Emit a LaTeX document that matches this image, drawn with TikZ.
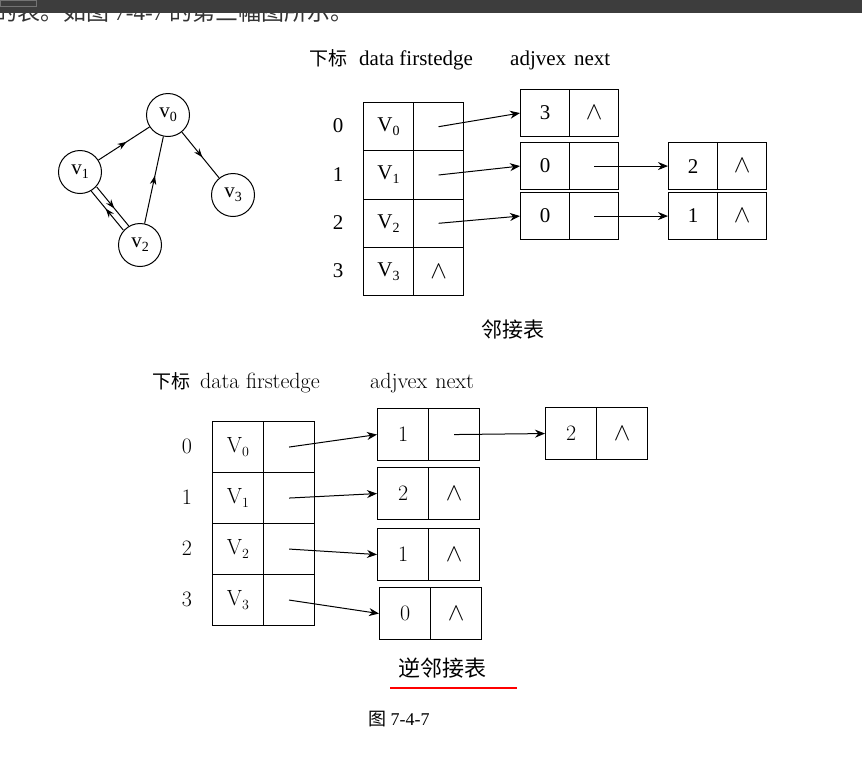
\documentclass[tikz,border=0pt]{standalone}
\usepackage{fontspec}
\newfontfamily\tnr{Liberation Serif}
\newfontfamily\cjk{Noto Sans CJK SC}
\usetikzlibrary{arrows.meta,decorations.markings}
\newcommand{\sbs}[2]{#1\raisebox{-0.4ex}{\fontsize{14}{14}\selectfont #2}}
\newcommand{\nullp}{{\fontsize{30}{30}\selectfont$\wedge$}}
\tikzset{
  vtx/.style={circle,draw,line width=1pt,minimum size=43pt,inner sep=0pt,font=\tnr\fontsize{21}{21}\selectfont},
  midarrow/.style={line width=1pt,decoration={markings,mark=at position 0.55 with {\arrow{Stealth[length=9pt,width=6.5pt]}}},postaction={decorate}},
  tcell/.style={draw,line width=1.1pt,minimum width=50pt,minimum height=48.3pt,inner sep=0pt,anchor=north west,font=\tnr\fontsize{21}{21}\selectfont},
  tedge/.style={draw,line width=1.1pt,minimum width=49pt,minimum height=47pt,inner sep=0pt,anchor=north west,font=\tnr\fontsize{21}{21}\selectfont},
  bcell/.style={draw,line width=1.1pt,minimum width=51pt,minimum height=51pt,inner sep=0pt,anchor=north west,font=\fontsize{22}{22}\selectfont},
  bedge/.style={draw,line width=1.1pt,minimum width=51pt,minimum height=52pt,inner sep=0pt,anchor=north west,font=\fontsize{22}{22}\selectfont},
  ptr/.style={line width=1pt,-{Stealth[length=10pt,width=8pt]}},
  lbl/.style={inner sep=0pt,font=\tnr\fontsize{21}{21}\selectfont},
  blbl/.style={inner sep=0pt,font=\fontsize{22}{22}\selectfont},
}
\begin{document}
\begin{tikzpicture}[x=1pt,y=-1pt]
\fill[white] (0,0) rectangle (862,756);
\useasboundingbox (0,0) rectangle (862,756);
% clipped header text and top bar
\begin{scope}
\clip (0,0) rectangle (862,22);
\node[anchor=base west,inner sep=0pt,font=\cjk\fontsize{23}{23}\selectfont,text=black!80] (toptext) at (-6,20) {的表。如图 {\tnr 7-4-7} 的第三幅图所示。};
\end{scope}
\fill[black!76] (0,0) rectangle (862,12.5);
\draw[black!55,line width=0.6pt] (0,0) rectangle (36,6);
% graph
\node[vtx] (v0) at (168,115) {\sbs{v}{0}};
\node[vtx] (v1) at (80,172) {\sbs{v}{1}};
\node[vtx] (v2) at (140,245) {\sbs{v}{2}};
\node[vtx] (v3) at (233,195) {\sbs{v}{3}};
\draw[midarrow] (v1) -- (v0);
\draw[midarrow] (v0) -- (v3);
\draw[midarrow] (v2) -- (v0);
\draw[midarrow,transform canvas={shift={(2.7pt,2.1pt)}}] (v1) -- (v2);
\draw[midarrow,transform canvas={shift={(-2.7pt,-2.1pt)}}] (v2) -- (v1);
% top adjacency list
\node[lbl,anchor=west] (h1) at (309,60) {{\cjk\fontsize{19}{19}\selectfont 下标}\hspace{12pt}data firstedge};
\node[lbl,anchor=west] (h2) at (510,60) {adjvex\hspace{8pt}next};
\foreach \i/\y in {0/102,1/150.3,2/198.6,3/246.9}{
  \node[lbl] (ti\i) at (338,\y+24) {\i};
  \node[tcell] (td\i) at (363,\y) {\sbs{V}{\i}};
  \node[tcell] (tf\i) at (413,\y) {};
}
\node[inner sep=0pt] (tnull) at (tf3.center) {\nullp};
\node[tedge] (a0) at (520,89) {3};
\node[tedge] (a0n) at (569,89) {\nullp};
\node[tedge] (b0) at (520,142) {0};
\node[tedge] (b0n) at (569,142) {};
\node[tedge] (c0) at (520,192) {0};
\node[tedge] (c0n) at (569,192) {};
\node[tedge] (d0) at (668,142) {2};
\node[tedge] (d0n) at (717,142) {\nullp};
\node[tedge] (e0) at (668,192) {1};
\node[tedge] (e0n) at (717,192) {\nullp};
\draw[ptr] (tf0.center) -- (a0.west);
\draw[ptr] (tf1.center) -- (b0.west);
\draw[ptr] (tf2.center) -- (c0.west);
\draw[ptr] (b0n.center) -- (d0.west);
\draw[ptr] (c0n.center) -- (e0.west);
\node[inner sep=0pt,font=\cjk\fontsize{21}{21}\selectfont] (cap1) at (513,330) {邻接表};
% bottom inverse adjacency list
\node[blbl,anchor=west] (g1) at (152,383) {{\cjk\fontsize{19}{19}\selectfont 下标}\hspace{10pt}data firstedge};
\node[blbl,anchor=west] (g2) at (370,383) {adjvex\hspace{8pt}next};
\foreach \i/\y in {0/421,1/472,2/523,3/574}{
  \node[blbl] (bi\i) at (187,\y+25) {\i};
  \node[bcell] (bd\i) at (212,\y) {\sbs{V}{\i}};
  \node[bcell] (bf\i) at (263,\y) {};
}
\node[bedge] (p0) at (377,408) {1};
\node[bedge] (p0n) at (428,408) {};
\node[bedge] (p1) at (377,467) {2};
\node[bedge] (p1n) at (428,467) {\nullp};
\node[bedge] (p2) at (377,528) {1};
\node[bedge] (p2n) at (428,528) {\nullp};
\node[bedge] (p3) at (379,587) {0};
\node[bedge] (p3n) at (430,587) {\nullp};
\node[bedge] (q0) at (545,407) {2};
\node[bedge] (q0n) at (596,407) {\nullp};
\draw[ptr] (bf0.center) -- (p0.west);
\draw[ptr] (bf1.center) -- (p1.west);
\draw[ptr] (bf2.center) -- (p2.west);
\draw[ptr] (bf3.center) -- (p3.west);
\draw[ptr] (p0n.center) -- (q0.west);
\node[inner sep=0pt,font=\cjk\fontsize{22}{22}\selectfont] (cap2) at (442,668) {逆邻接表};
\coordinate (ul1) at (390,688);
\coordinate (ul2) at (517,688);
\draw[red,line width=2.5pt] (ul1) -- (ul2);
\node[inner sep=0pt,font=\cjk\fontsize{18}{18}\selectfont] (fig) at (399,719) {图 {\tnr 7-4-7}};
\end{tikzpicture}
\end{document}
